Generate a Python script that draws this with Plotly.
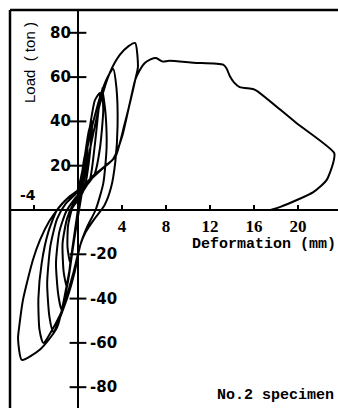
import plotly.graph_objects as go

# Hysteresis path (deformation mm, load ton)
defo = [
    0.0, 0.2, 0.6, 0.9, 0.6, 0.2, -0.1, -0.4, -0.7, -0.95, -0.9, -0.5, 0.1, 0.6,
    1.0, 1.2, 1.3, 1.0, 0.5, 0.1, -0.3, -0.7, -1.0, -1.3, -1.4, -1.0, -0.4, 0.4, 1.1,
    1.5, 1.8, 2.0, 1.7, 1.5, 1.0, 0.5, 0.1, -0.4, -0.9, -1.5, -1.8, -2.0, -1.7, -1.1, -0.3, 0.6, 1.5,
    2.0, 2.3, 2.2, 2.5, 2.6, 2.3, 1.6, 0.8, 0.2, -0.3, -1.0, -2.25, -2.6, -2.8, -2.5, -1.9, -1.1, -0.1,
    0.5, 1.3, 2.2, 2.8, 3.2, 3.5, 3.6, 3.4, 3.0, 2.4, 1.5, 0.7, 0.2, -0.4, -1.5, -3.15,
    -3.5, -3.6, -3.3, -2.7, -1.9, -0.8, 0.3, 1.5, 2.5, 3.4, 4.2, 4.9, 5.2, 5.45, 5.2,
    4.6, 3.8, 2.9, 2.0, 1.2, 0.5, 0.1, -0.3, -0.8, -1.9, -3.45, -5.1,
    -5.45, -5.3, -5.0, -4.1, -3.45, -2.6, -1.9, -1.0, 0.0, 1.2, 2.3, 3.2,
    4.0, 4.7, 5.2, 5.6, 6.1, 6.6, 7.1, 7.7, 8.3, 10.5, 13.2, 13.5, 13.8, 14.2, 14.7, 15.9, 16.3,
    19.8, 23.3, 23.2, 22.6, 21.4, 19.9, 18.4, 17.5,
]
load = [
    0.0, 8, 18, 28, 24, 10, -4, -14, -24, -17, -7, 1, 5, 10,
    22, 32, 40, 36, 20, 4, -10, -24, -35, -28, -15, -4, 3, 8, 14,
    28, 42, 52.8, 51, 49, 35, 18, 2, -15, -32, -45, -38, -24, -10, -1, 5, 10, 16,
    28, 45, 55, 44, 28, 12, 0, -8, -16, -28, -40, -55, -48, -33, -16, -4, 3, 8,
    20, 38, 54, 61, 63.7, 55, 38, 22, 10, 2, -4, -10, -16, -28, -46, -60,
    -54, -40, -24, -10, 0, 6, 10, 16, 20, 24, 38, 52, 58.7, 64.5, 75.4,
    74, 70, 62, 48, 30, 12, 0, -12, -28, -53, -63, -67.7,
    -58, -51, -40.6, -22.6, -13.5, -5, 0, 5, 8, 14, 19, 23,
    33, 48, 58.7, 63, 66.5, 68.0, 68.6, 67.0, 67.4, 66.5, 65.6, 64.0, 60.5, 57.5, 55.5, 54.6, 53.7,
    39.5, 25.7, 21.2, 13.5, 8.1, 4.5, 1.4, 0.0,
]

y_ticks_pos = [80, 60, 40, 20]
y_ticks_neg = [-20, -40, -60, -80]
x_ticks = [-4, 4, 8, 12, 16, 20]
x_tick_text = ["", "4", "8", "12", "16", "20"]

x_range = [-6.18, 23.64]
y_range = [-89.4, 90.3]

fig = go.Figure()

fig.add_trace(go.Scatter(
    x=defo, y=load, mode="lines",
    line=dict(color="black", width=2, shape="spline", smoothing=0.6),
    hoverinfo="skip", showlegend=False,
))

# crossing tick marks on the load axis
fig.add_trace(go.Scatter(
    x=[0] * (len(y_ticks_pos) + len(y_ticks_neg)),
    y=y_ticks_pos + y_ticks_neg,
    mode="markers",
    marker=dict(symbol="line-ew", size=12, line=dict(color="black", width=2)),
    hoverinfo="skip", showlegend=False,
))

y_pos = (0 - y_range[0]) / (y_range[1] - y_range[0])

fig.update_layout(
    width=338, height=408,
    margin=dict(l=10, r=0, t=10, b=0),
    paper_bgcolor="white", plot_bgcolor="white",
    xaxis=dict(
        range=x_range, showgrid=False, zeroline=True, zerolinecolor="black",
        zerolinewidth=2, showline=False, anchor="free", position=y_pos,
        tickmode="array", tickvals=x_ticks, ticktext=x_tick_text,
        ticks="inside", ticklen=5, tickwidth=1.5, tickcolor="black",
        tickfont=dict(family="Liberation Serif", size=17, color="black", weight="bold"),
        ticklabelstandoff=4,
    ),
    yaxis=dict(
        range=y_range, showgrid=False, zeroline=True, zerolinecolor="black",
        zerolinewidth=2, showline=False, showticklabels=False, ticks="",
    ),
    shapes=[
        dict(type="line", xref="paper", yref="paper", x0=0, x1=0, y0=0, y1=1,
             line=dict(color="black", width=2.5)),
        dict(type="line", xref="paper", yref="paper", x0=0, x1=1, y0=1, y1=1,
             line=dict(color="black", width=2.5)),
    ],
)

label_font = dict(family="DejaVu Sans", size=15, color="black", weight="bold")
for v in y_ticks_pos:
    fig.add_annotation(x=0, y=v, text=str(v), showarrow=False, xanchor="right",
                       yanchor="middle", xshift=-5, font=label_font)
for v in y_ticks_neg:
    fig.add_annotation(x=0, y=v, text="-" + str(abs(v)), showarrow=False, xanchor="left",
                       yanchor="middle", xshift=10, font=label_font)
fig.add_annotation(x=x_ticks[0], y=0, text="-4", showarrow=False, xanchor="center",
                   yanchor="bottom", xshift=-6, yshift=5,
                   font=dict(family="DejaVu Sans", size=14, color="black", weight="bold"))

fig.add_annotation(xref="paper", yref="paper", x=(30 - 10) / 328, y=(408 - 63) / 398,
                   xanchor="center", yanchor="middle",
                   text="Load  ( ton )", textangle=-90, showarrow=False,
                   font=dict(family="Liberation Sans", size=15, color="black"))
fig.add_annotation(xref="paper", yref="paper", x=(264 - 10) / 328, y=(408 - 245) / 398,
                   xanchor="center", yanchor="middle",
                   text="Deformation (mm)", showarrow=False,
                   font=dict(family="Liberation Mono", size=15, color="black", weight="bold"))
fig.add_annotation(xref="paper", yref="paper", x=(275 - 10) / 328, y=(408 - 395) / 398,
                   xanchor="center", yanchor="middle",
                   text="No.2 specimen", showarrow=False,
                   font=dict(family="Liberation Mono", size=15, color="black", weight="bold"))

fig.write_html(
    "out.html",
    config={"displayModeBar": False},
    post_script="document.body.style.margin='0';document.body.style.overflow='hidden';",
)
